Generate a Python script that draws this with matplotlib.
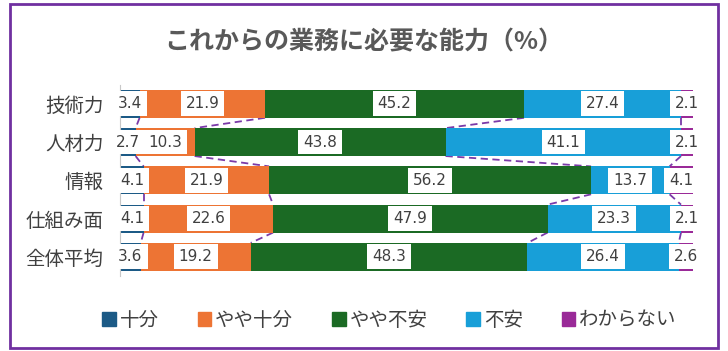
import numpy as np
import matplotlib
matplotlib.use('Agg')
import matplotlib.pyplot as plt
from matplotlib.patches import Rectangle, Patch

plt.rcParams['font.family'] = ['Noto Sans CJK JP', 'DejaVu Sans']

categories = ['技術力', '人材力', '情報', '仕組み面', '全体平均']
series_names = ['十分', 'やや十分', 'やや不安', '不安', 'わからない']
juubun = [3.4, 2.7, 4.1, 4.1, 3.6]
yaya_juubun = [21.9, 10.3, 21.9, 22.6, 19.2]
yaya_fuan = [45.2, 43.8, 56.2, 47.9, 48.3]
fuan = [27.4, 41.1, 13.7, 23.3, 26.4]
wakaranai = [2.1, 2.1, 4.1, 2.1, 2.6]
colors = ['#1c5a86', '#ed7434', '#1b6a24', '#189fd8', '#9a2a98']

data = np.array([juubun, yaya_juubun, yaya_fuan, fuan, wakaranai])
text_col = '#404040'
line_col = '#7a3aa8'

fig = plt.figure(figsize=(7.28, 3.51), dpi=100)
ax = fig.add_axes([0.165, 0.2137, 0.787, 0.545])

y = np.arange(len(categories))
h = 0.73
left = np.zeros(len(categories))
for vals, col in zip(data, colors):
    ax.barh(y, vals, left=left, height=h, color=col, zorder=2)
    for yi, v, l in zip(y, vals, left):
        ax.text(l + v / 2, yi, f'{v:.1f}', ha='center', va='center',
                fontsize=11, color=text_col, family='DejaVu Sans', zorder=4,
                bbox=dict(boxstyle='square,pad=0.32', fc='white', ec='none'))
    left = left + vals

# series lines between bars
cum = np.cumsum(data, axis=0)
for k in range(4):
    for i in range(len(categories) - 1):
        ax.plot([cum[k, i], cum[k, i + 1]], [y[i] + h / 2, y[i + 1] - h / 2],
                color=line_col, lw=1.3, ls=(0, (4, 2.5)), zorder=1)

ax.set_xlim(0, 100)
ax.set_ylim(4.5, -0.5)
ax.set_xticks([])
ax.set_yticks(y)
ax.set_yticklabels(categories, fontsize=14, color=text_col)
ax.tick_params(axis='y', length=0, pad=12)
for s in ['top', 'right', 'bottom']:
    ax.spines[s].set_visible(False)
ax.spines['left'].set_color('#c8c8c8')

fig.text(0.5, 0.88, 'これからの業務に必要な能力（%）', ha='center', va='center',
         fontsize=18, fontweight='bold', color='#595959')

handles = [Patch(color=c) for c in colors]
fig.legend(handles, series_names, loc='center', bbox_to_anchor=(0.535, 0.088),
           ncol=5, frameon=False, fontsize=14, handlelength=0.7, handleheight=0.7,
           handletextpad=0.2, columnspacing=2.0, labelcolor=text_col)

fig.patches.append(Rectangle((10 / 728, 3 / 351), 708 / 728, 344 / 351,
                             transform=fig.transFigure, fill=False,
                             ec='#7030a0', lw=2))

fig.savefig('out.png', dpi=100)
